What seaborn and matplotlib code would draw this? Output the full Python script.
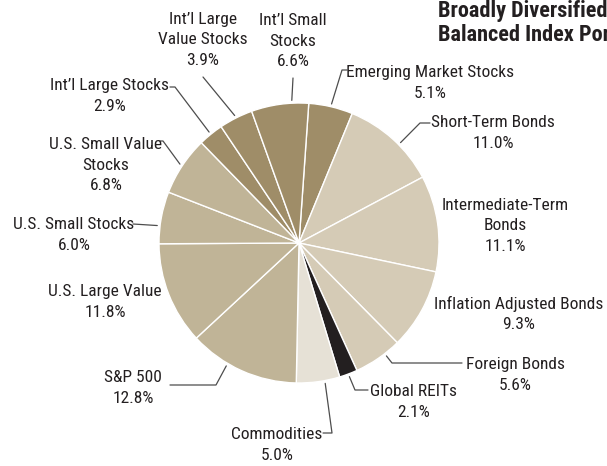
import matplotlib
matplotlib.use("Agg")
import numpy as np
import matplotlib.pyplot as plt
import seaborn as sns
from matplotlib import font_manager

# portfolio slices, clockwise from the top
categories = ["Emerging Market Stocks", "Short-Term Bonds", "Intermediate-Term Bonds",
              "Inflation Adjusted Bonds", "Foreign Bonds", "Global REITs", "Commodities",
              "S&P 500", "U.S. Large Value", "U.S. Small Stocks", "U.S. Small Value Stocks",
              "Int'l Large Stocks", "Int'l Large Value Stocks", "Int'l Small Stocks"]
shares = [5.1, 11.0, 11.1, 9.3, 5.6, 2.1, 5.0, 12.8, 11.8, 6.0, 6.8, 2.9, 3.9, 6.6]
label_names = ["Emerging Market Stocks", "Short-Term Bonds", "Intermediate-Term\nBonds",
               "Inflation Adjusted Bonds", "Foreign Bonds", "Global REITs", "Commodities",
               "S&P 500", "U.S. Large Value", "U.S. Small Stocks", "U.S. Small Value\nStocks",
               "Int\u2019l Large Stocks", "Int\u2019l Large\nValue Stocks", "Int\u2019l Small\nStocks"]
groups = ["intl", "bond", "bond", "bond", "bond", "reit", "comm",
          "us", "us", "us", "us", "intl", "intl", "intl"]

palette = {"intl": "#9f8d68", "us": "#c0b497", "bond": "#d5cbb6",
           "comm": "#e6e1d6", "reit": "#231f20"}

W, H = 607, 466
CX, CY, R = 299, 243, 140

# label block centre (px), leader attach fraction, leader points after the wedge (px)
layout = {
    "Emerging Market Stocks": ((430, 83), 0.5, [(342, 70), (347, 70)]),
    "Short-Term Bonds": ((493, 133), 0.58, [(420, 123), (430, 123)]),
    "Intermediate-Term Bonds": ((505, 226), None, []),
    "Inflation Adjusted Bonds": ((519, 314), None, []),
    "Foreign Bonds": ((515, 375), 0.34, [(392, 363), (462, 363)]),
    "Global REITs": ((414, 402), 0.5, [(355, 390), (368, 390)]),
    "Commodities": ((277, 445), 0.35, [(332, 433), (323, 433)]),
    "S&P 500": ((133, 388), 0.64, [(216, 385), (170, 385)]),
    "U.S. Large Value": ((105, 302), None, []),
    "U.S. Small Stocks": ((74, 235), 0.34, [(133, 224)]),
    "U.S. Small Value Stocks": ((106, 165), 0.5, [(163, 141), (160, 141)]),
    "Int'l Large Stocks": ((110, 96), 0.5, [(175, 87), (170, 87)]),
    "Int'l Large Value Stocks": ((203, 40), 0.5, [(203, 77)]),
    "Int'l Small Stocks": ((293, 41), 0.71, [(293, 78)]),
}

sns.set_style("white")
available = {f.name for f in font_manager.fontManager.ttflist}
font = next((f for f in ["Roboto Condensed", "Liberation Sans Narrow"] if f in available),
            "DejaVu Sans")
plt.rcParams["font.family"] = [font, "DejaVu Sans"]


def px(x, y):
    return x, H - y


fig = plt.figure(figsize=(W / 100, H / 100), dpi=100)
ax = fig.add_axes([0, 0, 1, 1])
wedges, _ = ax.pie(shares, colors=[palette[g] for g in groups], startangle=86,
                   counterclock=False, center=px(CX, CY), radius=R,
                   wedgeprops=dict(edgecolor="white", linewidth=1.0))
ax.set_xlim(0, W)
ax.set_ylim(0, H)
ax.set_aspect("equal")
ax.axis("off")

text_color = "#231f20"
for w, cat, name, val in zip(wedges, categories, label_names, shares):
    (tx, ty), frac, pts = layout[cat]
    ax.text(*px(tx, ty), f"{name}\n{val:.1f}%", ha="center", va="center",
            multialignment="center", fontsize=12.5, color=text_color, linespacing=1.42)
    if frac is not None:
        ang = np.deg2rad(w.theta2 - frac * (w.theta2 - w.theta1))
        sx = CX + R * 1.02 * np.cos(ang)
        sy = CY - R * 1.02 * np.sin(ang)
        path = [(sx, sy)] + pts
        ax.plot([p[0] for p in path], [H - p[1] for p in path], color="#4d4d4d", lw=0.9)

# title runs off the right edge, as in the source
ax.text(*px(438, 23), "Broadly Diversified\nBalanced Index Portfolio", ha="left", va="center",
        fontsize=16, fontweight="bold", color=text_color, linespacing=1.1)

fig.savefig("out.png", dpi=100)
